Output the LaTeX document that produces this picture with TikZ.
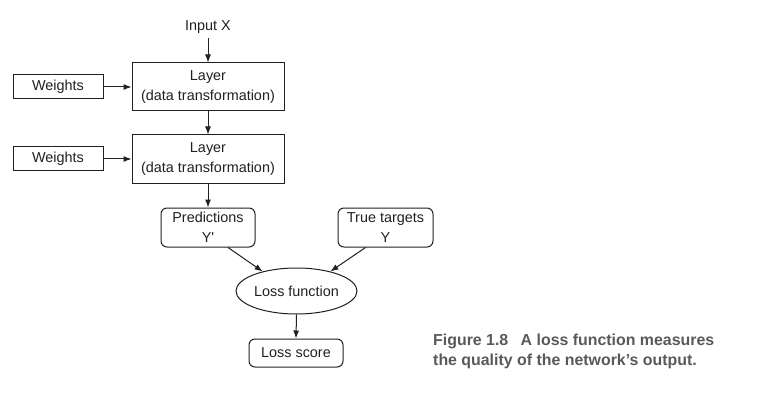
\documentclass[tikz,border=0pt]{standalone}
\usepackage{fontspec}
\setmainfont{Liberation Sans}
\usetikzlibrary{arrows.meta,shapes.geometric}
\definecolor{ink}{HTML}{231F20}
\definecolor{capgray}{HTML}{58595B}
\begin{document}
\begin{tikzpicture}[x=1pt,y=-1pt,
  every node/.style={font=\fontsize{14.4}{20}\selectfont, text=ink, align=center, inner sep=0pt},
  sqbox/.style={draw=ink, line width=1pt},
  rbox/.style={draw=ink, line width=1pt, rounded corners=6pt},
  oval/.style={draw=ink, line width=1pt, ellipse},
  arr/.style={draw=ink, line width=1pt, -{Latex[length=8pt,width=6pt]}},
  capt/.style={font=\fontsize{15.9}{20}\selectfont\bfseries, text=capgray, align=left, anchor=north west, inner sep=0pt}
]
\useasboundingbox (0,0) rectangle (762,406);
\node (in) at (208,27) {Input X};
\coordinate (inb) at (208,38);
\node[sqbox, minimum width=152pt, minimum height=48pt] (l1) at (208,87) {Layer\\(data transformation)};
\node[sqbox, minimum width=90pt, minimum height=24pt] (w1) at (58,87) {Weights};
\node[sqbox, minimum width=152pt, minimum height=48pt] (l2) at (208,159) {Layer\\(data transformation)};
\node[sqbox, minimum width=90pt, minimum height=24pt] (w2) at (58,159) {Weights};
\node[rbox, minimum width=94pt, minimum height=39pt] (pr) at (208,227.5) {Predictions\\Y\textquotesingle};
\node[rbox, minimum width=95pt, minimum height=39pt] (tt) at (385.5,227.5) {True targets\\Y};
\node[oval, minimum width=121pt, minimum height=46pt] (lf) at (296.5,291) {Loss function};
\node[rbox, minimum width=94pt, minimum height=28pt] (ls) at (296,353) {Loss score};
\node[capt] (cap) at (433,334) {Figure 1.8\hspace{8pt} A loss function measures\\the quality of the network’s output.};
\draw[arr] (inb) -- (l1.north);
\draw[arr] (w1.east) -- (l1.west);
\draw[arr] (l1.south) -- (l2.north);
\draw[arr] (w2.east) -- (l2.west);
\draw[arr] (l2.south) -- (pr.north);
\draw[arr] ([xshift=20pt]pr.south) -- (lf.150);
\draw[arr] ([xshift=-20pt]tt.south) -- (lf.30);
\draw[arr] (lf.south) -- (ls.north);
\end{tikzpicture}
\end{document}
